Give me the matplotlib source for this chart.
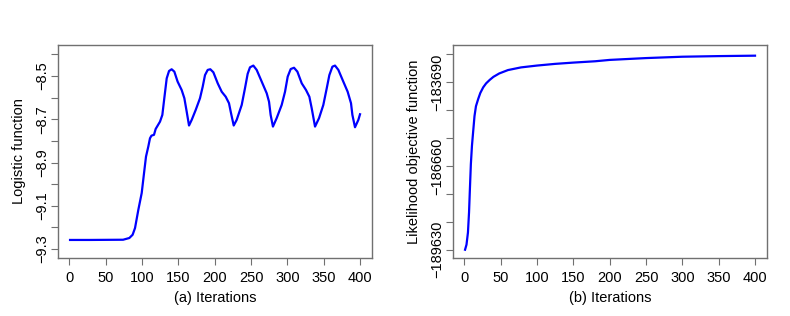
import numpy as np
import matplotlib
matplotlib.use('Agg')
import matplotlib.pyplot as plt

plt.rcParams['font.family'] = ['Liberation Sans', 'DejaVu Sans']

# (a) logistic function per iteration
iter_a = [1, 28, 74, 82.6, 87.1, 90.4, 95, 99.6, 102.8, 105.5, 108.7, 111, 113, 116.5,
          118.8, 124.8, 128, 130.7, 134, 137.2, 140.8, 144.5, 149, 154.6, 158.3, 161.5,
          164.7, 168.4, 173.9, 179.8, 183.5, 186.7, 190.4, 194, 198.2, 204.2, 209.7,
          215.2, 219.7, 222.5, 226.2, 230.3, 237.2, 241.7, 245.4, 248.6, 253.2, 257.8,
          264.7, 271.6, 274.8, 277, 280.2, 285.3, 292.2, 296.8, 300.5, 304.6, 309.2,
          313.8, 319.8, 325.7, 330.3, 333.5, 338.1, 343.6, 349.5, 354.2, 357.8, 362,
          365.6, 370.2, 377, 383, 387.6, 389.5, 393.1, 397.7, 400]
logistic = [-9.258, -9.258, -9.257, -9.249, -9.234, -9.203, -9.118, -9.041, -8.949,
            -8.873, -8.826, -8.788, -8.776, -8.772, -8.745, -8.711, -8.680, -8.603,
            -8.511, -8.477, -8.469, -8.480, -8.526, -8.565, -8.603, -8.665, -8.729,
            -8.703, -8.657, -8.603, -8.550, -8.496, -8.472, -8.469, -8.483, -8.534,
            -8.573, -8.596, -8.626, -8.672, -8.729, -8.703, -8.634, -8.557, -8.490,
            -8.460, -8.452, -8.472, -8.526, -8.580, -8.619, -8.680, -8.734, -8.695,
            -8.634, -8.573, -8.503, -8.468, -8.462, -8.480, -8.534, -8.565, -8.596,
            -8.649, -8.734, -8.695, -8.634, -8.557, -8.496, -8.457, -8.452, -8.472,
            -8.526, -8.573, -8.626, -8.680, -8.737, -8.703, -8.677]

# (b) likelihood objective per iteration
iter_b = [1, 3, 5, 6.5, 7.5, 9, 10.5, 12, 14, 16, 19, 22, 26, 30, 35, 40, 48, 60, 78,
          100, 125, 150, 180, 200, 250, 300, 350, 400]
likelihood = [-189630, -189450, -189018, -188300, -187600, -186600, -185950, -185495,
              -184900, -184550, -184300, -184080, -183880, -183740, -183616, -183510,
              -183390, -183270, -183175, -183110, -183050, -183005, -182958, -182910,
              -182845, -182797, -182775, -182760]

yt_a = np.round(np.arange(-9.3, -8.35, 0.1), 1)
yt_b = -189630 + 990 * np.arange(8)
xt = np.arange(0, 401, 50)

fig = plt.figure(figsize=(7.9, 3.16), dpi=100)
ax1 = fig.add_axes([0.0734, 0.1835, 0.3975, 0.674])
ax2 = fig.add_axes([0.5734, 0.1835, 0.3975, 0.674])

ax1.plot(iter_a, logistic, color='#0000ff', lw=1.6)
ax2.plot(iter_b, likelihood, color='#0000ff', lw=1.6)

ax1.set_xlim(-15.6, 416.5)
ax1.set_ylim(-9.3415, -8.357)
ax2.set_xlim(-15.6, 416.5)
ax2.set_ylim(-189924, -182383)

ax1.set_yticks(yt_a)
ax1.set_yticklabels([('%.1f' % v).replace('-', '\u2212') if i % 2 == 0 else ''
                     for i, v in enumerate(yt_a)])
ax2.set_yticks(yt_b)
ax2.set_yticklabels([('\u2212%d' % -v) if i % 3 == 0 else '' for i, v in enumerate(yt_b)])

for ax, lab, yl in [(ax1, '(a) Iterations', 'Logistic function'),
                    (ax2, '(b) Iterations', 'Likelihood objective function')]:
    ax.set_xticks(xt)
    ax.set_xlabel(lab, fontsize=10.5, labelpad=5)
    ax.set_ylabel(yl, fontsize=10.5, labelpad=7)
    for s in ax.spines.values():
        s.set_color('#707070')
        s.set_linewidth(1.0)
    ax.tick_params(axis='both', length=5, width=0.8, color='#707070', labelsize=10.5)
    ax.tick_params(axis='x', pad=4)
    ax.tick_params(axis='y', pad=1)
    for t in ax.get_yticklabels():
        t.set_rotation(90)
        t.set_va('center')

plt.savefig('out.png', dpi=100)
